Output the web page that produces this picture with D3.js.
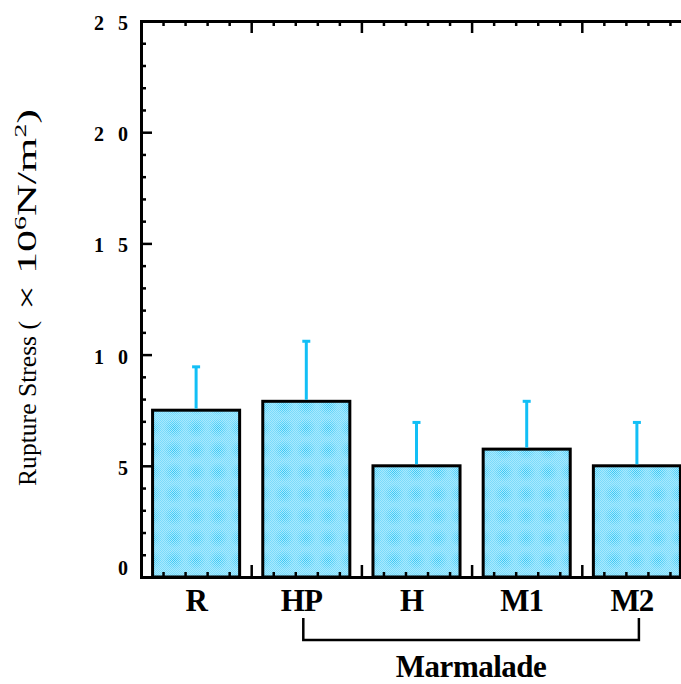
<!DOCTYPE html>
<html lang="en">
<meta charset="utf-8">
<head>
  <script src="https://d3js.org/d3.v7.min.js"></script>
  <style>
    body { margin: 0; background: #fff; }
  </style>
</head>
<body>
  <div id="my_dataviz"></div>
  <script>
    // data
    var samples = ["R", "HP", "H", "M1", "M2"];
    var stress = [7.5, 7.9, 5.0, 5.75, 5.0];
    var errors = [1.95, 2.7, 1.95, 2.15, 1.95];
    var yTicks = [0, 5, 10, 15, 20, 25];
    var groupLabel = "Marmalade";
    var groupFrom = "HP", groupTo = "M2";

    var serif = "'Liberation Serif', 'Times New Roman', Tinos, 'DejaVu Serif', serif";

    var margin = { top: 21, right: -11, bottom: 107, left: 141 },
      width = 681 - margin.left - margin.right,
      height = 684 - margin.top - margin.bottom;

    var svg = d3.select("#my_dataviz")
      .append("svg")
      .attr("width", 681)
      .attr("height", 684)
      .style("font-family", serif);

    // halftone-ish fill for the bars
    var defs = svg.append("defs");
    var fine = defs.append("pattern").attr("id", "fine")
      .attr("width", 2).attr("height", 2).attr("patternUnits", "userSpaceOnUse");
    fine.append("rect").attr("width", 2).attr("height", 2).attr("fill", "#a6e9ff");
    fine.append("rect").attr("width", 1).attr("height", 1).attr("fill", "#7ddbfa");
    fine.append("rect").attr("x", 1).attr("y", 1).attr("width", 1).attr("height", 1).attr("fill", "#7ddbfa");
    var dark = defs.append("pattern").attr("id", "dark")
      .attr("width", 2).attr("height", 2).attr("patternUnits", "userSpaceOnUse");
    dark.append("rect").attr("width", 2).attr("height", 2).attr("fill", "#a6e9ff");
    dark.append("rect").attr("width", 1).attr("height", 1).attr("fill", "#33c6f3");
    dark.append("rect").attr("x", 1).attr("y", 1).attr("width", 1).attr("height", 1).attr("fill", "#33c6f3");
    var rg = defs.append("radialGradient").attr("id", "blobFade");
    rg.append("stop").attr("offset", "0%").attr("stop-color", "#fff").attr("stop-opacity", 1);
    rg.append("stop").attr("offset", "100%").attr("stop-color", "#fff").attr("stop-opacity", 0);
    var mask = defs.append("mask").attr("id", "blobMask")
      .attr("maskContentUnits", "userSpaceOnUse");
    mask.append("rect").attr("width", 22).attr("height", 22).attr("fill", "#000");
    mask.append("circle").attr("cx", 11).attr("cy", 11).attr("r", 10).attr("fill", "url(#blobFade)");
    var tile = defs.append("pattern").attr("id", "halftone")
      .attr("width", 22).attr("height", 22).attr("patternUnits", "userSpaceOnUse")
      .attr("x", 0).attr("y", 0);
    tile.append("rect").attr("width", 22).attr("height", 22).attr("fill", "url(#fine)");
    tile.append("rect").attr("width", 22).attr("height", 22).attr("fill", "url(#dark)")
      .attr("mask", "url(#blobMask)");

    var g = svg.append("g")
      .attr("transform", "translate(" + margin.left + "," + margin.top + ")");

    // scales
    var x = d3.scaleBand()
      .domain(samples)
      .range([0, width])
      .paddingInner(0.21)
      .paddingOuter(0.105);

    var xl = d3.scaleLinear().domain([0, samples.length]).range([0, width]);

    var y = d3.scaleLinear()
      .domain([0, 25])
      .range([height, 0]);

    var minorY = d3.range(0, 26, 1).filter(function (d) { return d % 5 != 0; });
    var majorX = d3.range(0, samples.length + 1);
    var minorX = d3.range(0, samples.length * 5 + 1).map(function (d) { return d / 5; })
      .filter(function (d) { return Math.round(d * 5) % 5 != 0; });

    // bars
    g.selectAll(".bar")
      .data(samples)
      .enter()
      .append("rect")
      .attr("class", "bar")
      .attr("x", function (d) { return x(d); })
      .attr("y", function (d, i) { return y(stress[i]); })
      .attr("width", x.bandwidth())
      .attr("height", function (d, i) { return height - y(stress[i]); })
      .attr("fill", "url(#halftone)")
      .attr("stroke", "#000")
      .attr("stroke-width", 3);

    // error bars (upper only)
    var err = g.selectAll(".err")
      .data(samples)
      .enter()
      .append("g")
      .attr("class", "err")
      .attr("stroke", "#12bff6")
      .attr("stroke-width", 3);
    err.append("line")
      .attr("x1", function (d) { return x(d) + x.bandwidth() / 2; })
      .attr("x2", function (d) { return x(d) + x.bandwidth() / 2; })
      .attr("y1", function (d, i) { return y(stress[i]) - 1.5; })
      .attr("y2", function (d, i) { return y(stress[i] + errors[i]); });
    err.append("line")
      .attr("x1", function (d) { return x(d) + x.bandwidth() / 2 - 4; })
      .attr("x2", function (d) { return x(d) + x.bandwidth() / 2 + 4; })
      .attr("y1", function (d, i) { return y(stress[i] + errors[i]); })
      .attr("y2", function (d, i) { return y(stress[i] + errors[i]); });

    function styleAxis(sel) {
      sel.attr("font-family", serif);
      sel.select(".domain").attr("stroke-width", 3).attr("stroke", "#000");
      sel.selectAll(".tick line").attr("stroke-width", 2.5).attr("stroke", "#000");
    }

    // left axis
    g.append("g")
      .call(d3.axisLeft(y).tickValues(minorY).tickSize(-5).tickFormat(""))
      .call(styleAxis);
    var left = g.append("g")
      .call(d3.axisLeft(y).tickValues(yTicks).tickSize(-11).tickPadding(13))
      .call(styleAxis);
    left.selectAll(".tick text")
      .style("font-family", serif)
      .attr("font-size", 20)
      .attr("font-weight", "bold")
      .attr("fill", "#000")
      .style("letter-spacing", "14px")
      .attr("dx", 14)
      .attr("dy", function (d) { return d == 0 ? "-0.15em" : "0.42em"; });

    // right axis
    g.append("g")
      .attr("transform", "translate(" + width + ",0)")
      .call(d3.axisRight(y).tickValues(minorY).tickSize(-5).tickFormat(""))
      .call(styleAxis);
    g.append("g")
      .attr("transform", "translate(" + width + ",0)")
      .call(d3.axisRight(y).tickValues(yTicks).tickSize(-11).tickFormat(""))
      .call(styleAxis);

    // top axis
    g.append("g")
      .call(d3.axisTop(xl).tickValues(minorX).tickSize(-5).tickFormat(""))
      .call(styleAxis);
    g.append("g")
      .call(d3.axisTop(xl).tickValues(majorX).tickSize(-12).tickFormat(""))
      .call(styleAxis);

    // bottom axis
    g.append("g")
      .attr("transform", "translate(0," + height + ")")
      .call(d3.axisBottom(xl).tickValues(minorX).tickSize(-5).tickFormat(""))
      .call(styleAxis);
    g.append("g")
      .attr("transform", "translate(0," + height + ")")
      .call(d3.axisBottom(xl).tickValues(majorX).tickSize(-12).tickFormat(""))
      .call(styleAxis);
    var bottom = g.append("g")
      .attr("transform", "translate(0," + height + ")")
      .call(d3.axisBottom(x).tickSize(0).tickPadding(12))
      .call(styleAxis);
    bottom.select(".domain").remove();
    bottom.selectAll(".tick text")
      .style("font-family", serif)
      .attr("font-size", 31)
      .attr("font-weight", "bold")
      .attr("fill", "#000")
      .style("letter-spacing", "-1px")
      .attr("dx", function (d, i) { return i > 0 ? -5 : 0; });

    // group bracket
    var bx1 = x(groupFrom) + x.bandwidth() / 2 - 3,
      bx2 = x(groupTo) + x.bandwidth() / 2 + 2,
      by1 = height + 41, by2 = height + 63;
    g.append("path")
      .attr("d", "M" + bx1 + "," + by1 + "V" + by2 + "H" + bx2 + "V" + by1)
      .attr("fill", "none")
      .attr("stroke", "#000")
      .attr("stroke-width", 2.5);
    g.append("text")
      .attr("x", (bx1 + bx2) / 2)
      .attr("y", height + 100)
      .attr("text-anchor", "middle")
      .style("font-family", serif)
      .attr("font-size", 31)
      .attr("font-weight", "bold")
      .style("letter-spacing", "-0.5px")
      .text(groupLabel);

    // y title: the unit part uses wide glyphs in the original, so stretch it
    var titleG = svg.append("g")
      .attr("transform", "translate(36,486) rotate(-90)");
    titleG.append("text")
      .attr("x", 0)
      .style("font-family", serif)
      .attr("font-size", 26)
      .attr("fill", "#000")
      .attr("textLength", 165)
      .attr("lengthAdjust", "spacingAndGlyphs")
      .text("Rupture Stress (");
    var unit = titleG.append("text")
      .attr("x", 176)
      .style("font-family", serif)
      .attr("font-size", 27)
      .attr("fill", "#000")
      .attr("textLength", 201)
      .attr("lengthAdjust", "spacingAndGlyphs");
    unit.append("tspan").text("\u00d7 10");
    unit.append("tspan").attr("font-size", 17).attr("dy", -10).text("6");
    unit.append("tspan").attr("dy", 10).text("N/m");
    unit.append("tspan").attr("font-size", 17).attr("dy", -10).text("2");
    unit.append("tspan").attr("dy", 10).text(")");
  </script>
</body>
</html>
